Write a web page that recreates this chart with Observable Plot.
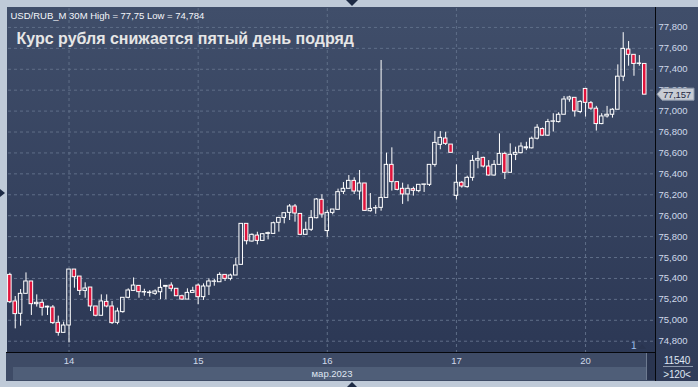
<!DOCTYPE html>
<html><head><meta charset="utf-8">
<script src="https://cdn.jsdelivr.net/npm/d3@7"></script>
<script src="https://cdn.jsdelivr.net/npm/@observablehq/plot@0.6"></script>
<style>
html,body{margin:0;padding:0;background:#bfcad8;}
#wrap{position:relative;width:698px;height:387px;overflow:hidden;background:#bfcad8;font-family:"Liberation Sans",Arial,sans-serif;}
.abs{position:absolute;}
#plotbg{left:7px;top:7px;width:648px;height:345px;background:linear-gradient(#404e6a,#2c3855);}
#axbg{left:656px;top:7px;width:42px;height:374px;background:linear-gradient(#404e6a,#2f3b58);}
#vline{left:655px;top:7px;width:1px;height:374px;background:#05070c;}
#hline{left:6px;top:352px;width:649px;height:1px;background:#05070c;}
#xband{left:6px;top:353px;width:649px;height:28px;background:#3e4b66;}
#xstrip{left:13px;top:367px;width:633px;height:13px;background:#4f5e78;}
#scroll{left:646px;top:353px;width:8px;height:27px;background:#2a3550;border-left:1px solid #6d7a90;}
#rsep{left:663px;top:366px;width:30px;height:1px;background:#8c98ac;}
.rtxt{color:#dfe6f2;font-size:10px;width:42px;text-align:center;left:656px;letter-spacing:-0.2px;}
.tri{width:0;height:0;border-style:solid;}
#chart{position:absolute;left:0;top:0;}
</style></head>
<body>
<div id="wrap">
  <div class="abs" id="plotbg"></div>
  <div class="abs" id="axbg"></div>
  <div class="abs" id="xband"></div>
  <div class="abs" id="xstrip"></div>
  <div class="abs" id="scroll"></div>
  <div class="abs" id="vline"></div>
  <div class="abs" id="hline"></div>
  <div class="abs" id="rsep"></div>
  <div class="abs rtxt" style="top:355px;">11540</div>
  <div class="abs rtxt" style="top:369px;">&gt;120&lt;</div>
  <div class="abs" style="left:631px;top:340px;color:#9fc0ee;font-size:10px;">1</div>
  <div class="abs tri" style="left:638px;top:344px;border-width:0 4px 5px 4px;border-color:transparent transparent #2a3550 transparent;"></div>
  <div class="abs tri" style="left:346px;top:0px;border-width:6px 6px 0 6px;border-color:#1d2a44 transparent transparent transparent;"></div>
  <div class="abs tri" style="left:347px;top:382px;border-width:0 5px 5px 5px;border-color:transparent transparent #1d2a44 transparent;"></div>
  <div class="abs tri" style="left:0px;top:189px;border-width:4px 0 4px 5px;border-color:transparent transparent transparent #1d2a44;"></div>
  <div id="chart"></div>
</div>
<script>
// 30-minute candles, USD/RUB_M, 13–20 March 2023
const open  = [75.434,75.18,75.062,75.253,75.371,75.154,75.167,75.122,75.122,74.976,74.88,
  74.95,75.485,75.418,75.281,75.313,75.132,75.043,75.176,75.132,74.976,75.078,75.215,75.281,75.329,75.266,75.265,75.253,75.268,75.32,75.332,75.301,75.23,75.198,75.262,
  75.332,75.221,75.323,75.368,75.364,75.434,75.396,75.428,75.53,75.922,75.753,75.81,75.759,75.826,75.826,75.932,75.979,76.027,76.088,76.017,75.817,75.865,75.976,76.152,
  75.853,76.027,76.056,76.228,76.257,76.333,76.231,76.308,76.043,76.07,76.075,76.17,76.486,76.321,76.257,76.203,76.254,76.235,76.295,76.295,76.486,76.677,76.738,76.68,
  76.19,76.315,76.273,76.362,76.527,76.553,76.47,76.384,76.486,76.591,76.41,76.582,76.598,76.644,76.644,76.736,76.828,76.765,76.898,76.895,76.965,77.111,77.127,76.991,
  77.212,77.076,77.023,76.876,76.949,76.965,77.013,77.329,77.589,77.538,77.451,77.451];
const high  = [75.45,75.227,75.294,75.453,75.371,75.243,75.198,75.135,75.141,75.04,74.982,
  75.485,75.485,75.418,75.358,75.313,75.132,75.243,75.243,75.18,75.116,75.215,75.301,75.405,75.329,75.297,75.284,75.291,75.387,75.33,75.358,75.301,75.24,75.301,75.316,
  75.348,75.348,75.396,75.39,75.454,75.434,75.441,75.594,75.922,75.922,75.826,75.842,75.83,75.843,75.938,75.979,76.024,76.107,76.107,76.017,75.938,76.049,76.164,76.2,
  76.052,76.059,76.254,76.317,76.384,76.362,76.432,76.308,76.212,76.097,77.484,76.598,76.649,76.321,76.311,76.295,76.273,76.295,76.299,76.486,76.804,76.804,76.798,76.68,
  76.486,76.327,76.378,76.575,76.613,76.559,76.527,76.527,76.782,76.607,76.687,76.655,76.696,76.702,76.752,76.87,76.838,76.921,76.975,76.984,77.14,77.142,77.127,77.101,
  77.212,77.092,77.045,76.975,77.045,77.023,77.442,77.75,77.665,77.538,77.531,77.451];
const low   = [75.16,74.918,74.944,75.25,75.046,75.126,75.04,75.046,74.96,74.848,74.878,
  74.784,75.307,75.237,75.211,75.084,75.033,75.04,75.119,74.96,74.957,75.068,75.205,75.28,75.211,75.23,75.221,75.237,75.198,75.198,75.272,75.226,75.19,75.198,75.262,
  75.15,75.19,75.237,75.326,75.364,75.371,75.377,75.428,75.53,75.721,75.747,75.721,75.755,75.769,75.826,75.843,75.922,75.954,75.938,75.81,75.817,75.849,75.97,75.976,
  75.794,76.008,76.056,76.202,76.257,76.202,76.149,76.04,76.034,76.014,76.043,76.17,76.235,76.238,76.108,76.133,76.187,76.219,76.222,76.279,76.464,76.63,76.671,76.6,
  76.149,76.263,76.263,76.33,76.448,76.457,76.378,76.378,76.483,76.346,76.41,76.527,76.591,76.622,76.638,76.724,76.758,76.758,76.8,76.886,76.965,77.085,76.943,76.975,
  76.943,77.007,76.809,76.87,76.933,76.933,77.013,77.282,77.429,77.333,77.429,77.157];
const close = [75.173,75.059,75.253,75.371,75.154,75.167,75.119,75.13,74.973,74.88,74.95,
  75.485,75.412,75.281,75.304,75.132,75.043,75.18,75.132,74.973,75.084,75.215,75.285,75.332,75.269,75.27,75.26,75.275,75.31,75.329,75.301,75.23,75.198,75.262,75.281,
  75.221,75.323,75.371,75.371,75.434,75.396,75.428,75.524,75.922,75.756,75.817,75.759,75.823,75.833,75.928,75.979,76.024,76.088,76.021,75.817,75.865,75.979,76.155,76.011,
  76.027,76.059,76.225,76.257,76.333,76.231,76.308,76.046,76.065,76.072,76.17,76.486,76.321,76.247,76.203,76.257,76.238,76.295,76.299,76.486,76.696,76.744,76.687,76.601,
  76.315,76.279,76.362,76.524,76.543,76.47,76.384,76.486,76.591,76.41,76.582,76.601,76.661,76.654,76.736,76.841,76.765,76.895,76.902,76.965,77.111,77.13,76.997,77.088,
  77.079,77.023,76.876,76.949,76.965,77.013,77.329,77.595,77.538,77.451,77.455,77.157];

const dayStarts = [11, 35, 59, 83, 107];
const dayLabels = ["14", "15", "16", "17", "20"];
const monthLabel = "мар.2023";
const yTicks = [74.8, 75.0, 75.2, 75.4, 75.6, 75.8, 76.0, 76.2, 76.4, 76.6, 76.8, 77.0, 77.2, 77.4, 77.6, 77.8];
const header = "USD/RUB_M 30M High = 77,75 Low = 74,784";
const title = "Курс рубля снижается пятый день подряд";

const data = open.map((o, i) => ({i, o, h: high[i], l: low[i], c: close[i]}));
const red = "#e0143c";
const fmt = v => v.toFixed(3).replace(".", ",");

const chart = Plot.plot({
  width: 698, height: 387,
  marginLeft: 8, marginRight: 43, marginTop: 8, marginBottom: 35,
  style: {background: "transparent", fontFamily: "Liberation Sans, Arial, sans-serif", fontSize: "9.5px", color: "#cfd9ea", overflow: "visible"},
  x: {domain: [-0.25, 120], axis: null},
  y: {domain: [74.692, 77.981], axis: null},
  marks: [
    Plot.gridY(yTicks, {stroke: "#5f6e88", strokeOpacity: 1, strokeDasharray: "3,3"}),
    Plot.gridX(dayStarts, {stroke: "#5f6e88", strokeOpacity: 1, strokeDasharray: "3,3"}),
    Plot.axisY(yTicks, {anchor: "right", tickSize: 0, tickPadding: 3, tickFormat: fmt, label: null, style: {letterSpacing: "-0.2px"}}),
    Plot.axisX(dayStarts, {anchor: "bottom", tickSize: 0, tickPadding: 5, tickFormat: d => dayLabels[dayStarts.indexOf(d)], label: null}),
    Plot.text([monthLabel], {frameAnchor: "bottom", dy: 21, lineAnchor: "middle", fill: "#dfe6f2", fontSize: 9.5}),
    Plot.ruleX(data, {x: "i", y1: "h", y2: d => Math.max(d.o, d.c), stroke: "white", strokeWidth: 1}),
    Plot.ruleX(data, {x: "i", y1: d => Math.min(d.o, d.c), y2: "l", stroke: "white", strokeWidth: 1}),
    Plot.rect(data, {x1: d => d.i - 0.33, x2: d => d.i + 0.33, y1: "o", y2: "c",
      fill: d => d.c < d.o ? red : "none", stroke: "white", strokeWidth: 1}),
    Plot.text([header], {frameAnchor: "top-left", dx: 2, dy: 4, lineAnchor: "top", fill: "#f4f6fa", fontSize: 9.5, style: {letterSpacing: "-0.25px"}}),
    Plot.text([title], {frameAnchor: "top-left", dx: 8, dy: 24, lineAnchor: "top", fill: "#e6e6e6", fontSize: 16, fontWeight: "bold"})
  ]
});
document.getElementById("chart").appendChild(chart);

// last-price tag on the right axis (covers the neighbouring tick label, as in the original)
const last = close[close.length - 1];
const yy = chart.scale("y").apply(last);
const g = d3.select(chart).append("g");
g.append("path")
  .attr("d", `M657,${yy} L662,${yy - 6} L694,${yy - 6} L694,${yy + 6} L662,${yy + 6} Z`)
  .attr("fill", "#c8ccd4").attr("stroke", "#8e99ab");
g.append("text").attr("x", 663).attr("y", yy).attr("dy", "0.35em")
  .attr("text-anchor", "start")
  .attr("fill", "#1e2842").attr("font-size", "9.5px").attr("letter-spacing", "-0.2px")
  .text(fmt(last));
</script>
</body></html>
